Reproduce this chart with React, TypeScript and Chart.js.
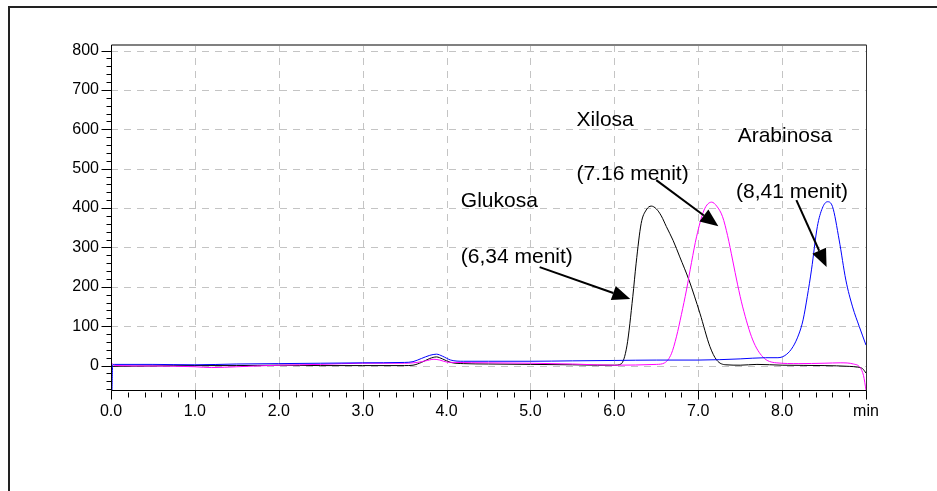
import React, { useEffect, useRef } from "react";
import { Chart, registerables } from "chart.js";

Chart.register(...registerables);

// ---- Data (retention time in minutes, detector response) ----
const glukosaX = [0, 0.5, 1.0, 1.5, 2.0, 2.5, 3.0, 3.5, 3.6, 3.7, 3.8, 3.88, 3.95, 4.05, 4.2, 4.5, 5.0, 5.5, 5.8, 6.0, 6.08, 6.15, 6.22, 6.26, 6.32, 6.38, 6.44, 6.5, 6.56, 6.62, 6.7, 6.78, 6.89, 7.02, 7.14, 7.22, 7.33, 7.5, 7.7, 8.0, 8.5, 8.8, 8.9, 8.96, 9.0];
const glukosaY = [-2, -1, 0, 0, 1, 0, 0, 0, 1, 8, 18, 22, 17, 8, 5, 4, 3, 2, 1, 1, 4, 50, 175, 260, 361, 395, 405, 398, 380, 353, 318, 276, 217, 133, 48, 14, 2, 1, 3, 1, 0, -2, -4, -8, -19];

const xilosaX = [0, 0.02, 0.05, 0.5, 1.0, 1.2, 1.5, 2.0, 2.5, 3.0, 3.5, 3.65, 3.75, 3.85, 3.92, 4.0, 4.1, 4.5, 5.0, 5.5, 6.0, 6.5, 6.6, 6.68, 6.74, 6.8, 6.86, 6.92, 6.98, 7.07, 7.16, 7.22, 7.29, 7.35, 7.41, 7.47, 7.53, 7.65, 7.77, 7.93, 8.2, 8.5, 8.7, 8.85, 8.93, 8.97, 9.0];
const xilosaY = [8, 4, 0, -1, -3, -5, -3, 1, 3, 6, 6, 8, 12, 16, 14, 9, 8, 7, 6, 4, 1, 3, 7, 30, 73, 130, 192, 262, 327, 395, 415, 405, 378, 330, 268, 205, 149, 65, 22, 7, 5, 6, 7, 4, -5, -25, -62];

const arabinosaX = [0.012, 0.02, 0.04, 0.5, 1.0, 1.5, 2.0, 2.5, 3.0, 3.5, 3.6, 3.7, 3.8, 3.88, 3.95, 4.05, 4.2, 4.5, 5.0, 5.5, 6.0, 6.5, 7.0, 7.5, 7.8, 7.95, 8.05, 8.13, 8.2, 8.25, 8.3, 8.35, 8.42, 8.48, 8.54, 8.6, 8.68, 8.76, 8.84, 8.92, 9.0];
const arabinosaY = [-62, 2, 3, 3, 2, 4, 5, 6, 7, 8, 10, 18, 26, 29, 24, 14, 11, 11, 11, 12, 13, 14, 14, 17, 20, 20, 28, 48, 80, 116, 175, 243, 353, 400, 416, 404, 319, 217, 149, 99, 52];

const xTickValues = [0, 1, 2, 3, 4, 5, 6, 7, 8, 9];
const xTickLabels = ["0.0", "1.0", "2.0", "3.0", "4.0", "5.0", "6.0", "7.0", "8.0", "min"];
const yTickValues = [0, 100, 200, 300, 400, 500, 600, 700, 800];

const annotationTexts = ["Glukosa", "(6,34 menit)", "Xilosa", "(7.16 menit)", "Arabinosa", "(8,41 menit)"];
const annotationX = [4.17, 4.17, 5.55, 5.55, 7.47, 7.45];
const annotationY = [418, 276, 624, 485, 583, 441];

const arrowFromX = [5.11, 6.5, 8.17];
const arrowFromY = [250, 471, 420];
const arrowToX = [6.19, 7.24, 8.53];
const arrowToY = [169, 354, 250];

const toPoints = (xs: number[], ys: number[]) => xs.map((x, i) => ({ x, y: ys[i] }));

const FONT = '"Liberation Sans", Arial, sans-serif';

const decorPlugin = {
  id: "decor",
  beforeDatasetsDraw(chart: any) {
    const { ctx, chartArea, scales } = chart;
    const { left, right, top, bottom } = chartArea;
    const xs = scales.x;
    const ys = scales.y;
    ctx.save();
    ctx.strokeStyle = "#c4c4c4";
    ctx.lineWidth = 1;
    ctx.setLineDash([7, 6]);
    for (const v of xTickValues) {
      if (v === 0) continue;
      const px = Math.round(xs.getPixelForValue(v)) + 0.5;
      ctx.beginPath();
      ctx.moveTo(px, top);
      ctx.lineTo(px, bottom);
      ctx.stroke();
    }
    for (const v of yTickValues) {
      const py = Math.round(ys.getPixelForValue(v)) + 0.5;
      ctx.beginPath();
      ctx.moveTo(left, py);
      ctx.lineTo(right, py);
      ctx.stroke();
    }
    ctx.restore();
  },
  afterDatasetsDraw(chart: any) {
    const { ctx, chartArea, scales, width, height } = chart;
    const { left, right, top, bottom } = chartArea;
    const xs = scales.x;
    const ys = scales.y;
    ctx.save();
    ctx.setLineDash([]);

    // plot frame
    const L = Math.round(left) + 0.5;
    const R = Math.round(right) + 0.5;
    const B = Math.round(bottom) + 0.5;
    const T = Math.round(top);
    ctx.strokeStyle = "#808080";
    ctx.lineWidth = 2;
    ctx.beginPath();
    ctx.moveTo(L, T);
    ctx.lineTo(R, T);
    ctx.stroke();
    ctx.strokeStyle = "#333";
    ctx.lineWidth = 1;
    ctx.beginPath();
    ctx.moveTo(R, T);
    ctx.lineTo(R, B);
    ctx.stroke();
    ctx.strokeStyle = "#000";
    ctx.beginPath();
    ctx.moveTo(L, T);
    ctx.lineTo(L, B);
    ctx.lineTo(R, B);
    ctx.stroke();

    // ticks x
    ctx.strokeStyle = "#000";
    for (let i = 0; i <= 45; i++) {
      const v = i * 0.2;
      const px = Math.round(xs.getPixelForValue(v)) + 0.5;
      ctx.beginPath();
      if (i % 5 === 0) {
        ctx.moveTo(px, B);
        ctx.lineTo(px, B + 9);
      } else {
        ctx.moveTo(px, B + 2);
        ctx.lineTo(px, B + 7);
      }
      ctx.stroke();
    }
    // ticks y
    for (let v = -60; v <= 800; v += 20) {
      const py = Math.round(ys.getPixelForValue(v)) + 0.5;
      ctx.beginPath();
      if (v % 100 === 0) {
        ctx.moveTo(L - 10, py);
      } else {
        ctx.moveTo(L - 5, py);
      }
      ctx.lineTo(L, py);
      ctx.stroke();
    }

    // outer figure frame
    ctx.strokeStyle = "#222";
    ctx.lineWidth = 2;
    ctx.beginPath();
    ctx.moveTo(9, height);
    ctx.lineTo(9, 7);
    ctx.lineTo(width, 7);
    ctx.stroke();

    // annotations
    ctx.fillStyle = "#000";
    ctx.font = `21px ${FONT}`;
    ctx.textAlign = "left";
    ctx.textBaseline = "middle";
    annotationTexts.forEach((t, i) => {
      ctx.fillText(t, xs.getPixelForValue(annotationX[i]), ys.getPixelForValue(annotationY[i]));
    });

    // arrows
    arrowFromX.forEach((fx, i) => {
      const x1 = xs.getPixelForValue(fx);
      const y1 = ys.getPixelForValue(arrowFromY[i]);
      const x2 = xs.getPixelForValue(arrowToX[i]);
      const y2 = ys.getPixelForValue(arrowToY[i]);
      const ang = Math.atan2(y2 - y1, x2 - x1);
      const headLen = 18;
      const headHalf = 7.5;
      const bx = x2 - headLen * Math.cos(ang);
      const by = y2 - headLen * Math.sin(ang);
      ctx.strokeStyle = "#000";
      ctx.lineWidth = 2;
      ctx.beginPath();
      ctx.moveTo(x1, y1);
      ctx.lineTo(bx, by);
      ctx.stroke();
      ctx.beginPath();
      ctx.moveTo(x2, y2);
      ctx.lineTo(bx - headHalf * Math.sin(ang), by + headHalf * Math.cos(ang));
      ctx.lineTo(bx + headHalf * Math.sin(ang), by - headHalf * Math.cos(ang));
      ctx.closePath();
      ctx.fill();
    });

    ctx.restore();
  },
};

export default function App() {
  const canvasRef = useRef<HTMLCanvasElement | null>(null);

  useEffect(() => {
    if (!canvasRef.current) return;
    const seriesStyle = {
      pointRadius: 0,
      borderWidth: 1,
      cubicInterpolationMode: "monotone" as const,
      fill: false,
    };
    const chart = new Chart(canvasRef.current, {
      type: "line",
      data: {
        datasets: [
          { label: "Arabinosa", data: toPoints(arabinosaX, arabinosaY), borderColor: "#0000ff", ...seriesStyle },
          { label: "Xilosa", data: toPoints(xilosaX, xilosaY), borderColor: "#ff00ff", ...seriesStyle },
          { label: "Glukosa", data: toPoints(glukosaX, glukosaY), borderColor: "#000000", ...seriesStyle },
        ],
      },
      options: {
        animation: false,
        responsive: false,
        maintainAspectRatio: false,
        devicePixelRatio: 1,
        layout: { padding: { left: 0, top: 45, right: 71, bottom: 61 } },
        plugins: {
          legend: { display: false },
          tooltip: { enabled: false },
          title: { display: false },
        },
        scales: {
          x: {
            type: "linear",
            min: 0,
            max: 9,
            grid: { display: false, drawTicks: true, tickLength: 8 },
            border: { display: false },
            afterBuildTicks: (scale: any) => {
              scale.ticks = xTickValues.map((v) => ({ value: v }));
            },
            afterFit: (scale: any) => {
              scale.height = 40;
            },
            ticks: {
              autoSkip: false,
              maxRotation: 0,
              padding: 4,
              color: "#000",
              font: { family: FONT, size: 16 },
              callback: (v: any) => {
                const idx = xTickValues.indexOf(Number(v));
                return idx >= 0 ? xTickLabels[idx] : "";
              },
            },
          },
          y: {
            type: "linear",
            min: -62,
            max: 814,
            grid: { display: false, drawTicks: true, tickLength: 8 },
            border: { display: false },
            afterBuildTicks: (scale: any) => {
              scale.ticks = yTickValues.map((v) => ({ value: v }));
            },
            afterFit: (scale: any) => {
              scale.width = 111;
            },
            ticks: {
              autoSkip: false,
              padding: 4,
              color: "#000",
              font: { family: FONT, size: 16 },
              callback: (v: any) => String(v),
            },
          },
        },
      },
      plugins: [decorPlugin],
    });
    return () => chart.destroy();
  }, []);

  return (
    <div style={{ position: "fixed", left: 0, top: 0, width: 937, height: 491, background: "#fff" }}>
      <canvas ref={canvasRef} width={937} height={491} style={{ display: "block" }} />
    </div>
  );
}
